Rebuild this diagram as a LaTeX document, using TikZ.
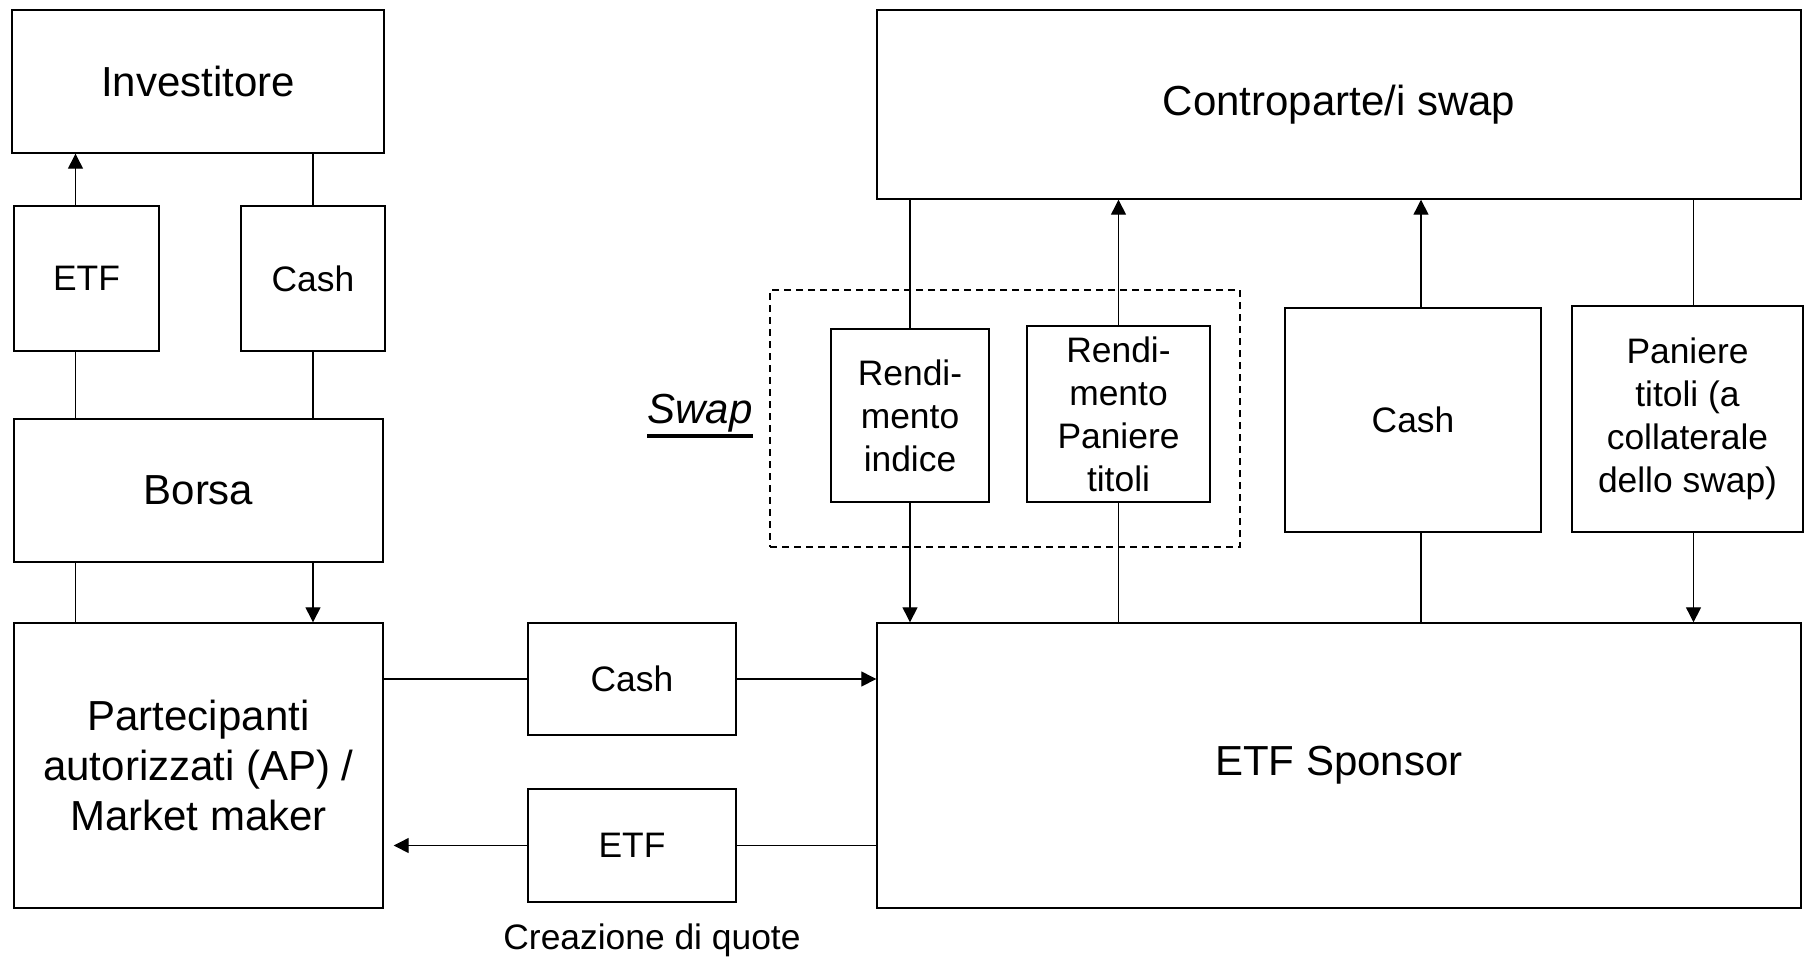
\documentclass[tikz,border=0pt]{standalone}
\usepackage{fontspec}
\setmainfont{Liberation Sans}
\usetikzlibrary{arrows.meta}
\newcommand\bigfont{\fontsize{21}{25}\selectfont}
\newcommand\smallfont{\fontsize{17.7}{21.5}\selectfont}
\newcommand\swapul[1]{\setbox0\hbox{#1}\rlap{\rule[-7pt]{\wd0}{1.8pt}}\box0}

\begin{document}
\begin{tikzpicture}[
    x=0.5pt,y=-0.5pt,
    >={Triangle[length=7.5pt,width=7.5pt]},
    box/.style 2 args={rectangle,draw,line width=0.7pt,
                minimum width=#1*0.5pt,minimum height=#2*0.5pt,
                inner sep=0pt,align=center,font=\bigfont},
    sbox/.style 2 args={box={#1}{#2},font=\smallfont},
    swapbox/.style 2 args={rectangle,draw,line width=0.6pt,
                dash pattern=on 3.5pt off 2.5pt,
                minimum width=#1*0.5pt,minimum height=#2*0.5pt},
    arr/.style={->,line width=0.65pt},
    lnk/.style={line width=0.65pt}
  ]
  \useasboundingbox (0,0) rectangle (1807,958);
  % lato mercato
  \node[box={372}{143}]  (inv)   at (198,81.5)    {Investitore};
  \node[sbox={145}{145}] (etfA)  at (86.5,278.5)  {ETF};
  \node[sbox={144}{145}] (cashA) at (313,278.5)   {Cash};
  \node[box={369}{143}]  (borsa) at (198.5,490.5) {Borsa};
  \node[box={369}{285}]  (ap)    at (198.5,765.5) {Partecipanti\\autorizzati (AP) /\\Market maker};
  % creazione
  \node[sbox={208}{112}] (cashB) at (632,679)     {Cash};
  \node[sbox={208}{113}] (etfB)  at (632,845.5)   {ETF};
  \node[font=\smallfont] (quote) at (652,940)     {Creazione di quote};
  % lato sponsor
  \node[box={924}{189}]  (cp)    at (1339,104.5)  {Controparte/i swap};
  \node[box={924}{285}]  (sp)    at (1339,765.5)  {ETF Sponsor};
  \node[swapbox={470}{257}] (swp) at (1005,418.5) {};
  \node[font=\bigfont\itshape] (swaplbl) at (700,416) {\swapul{Swap}};
  \node[sbox={158}{173}] (ri)    at (910,415.5)   {Rendi-\\mento\\indice};
  \node[sbox={183}{176}] (rp)    at (1118.5,414)  {Rendi-\\mento\\Paniere\\titoli};
  \node[sbox={256}{224}] (cashC) at (1413,420)    {Cash};
  \node[sbox={231}{226}] (col)   at (1687.5,419)  {Paniere\\titoli (a\\collaterale\\dello swap)};

  \draw[arr] ([xshift=-5.5pt]etfA.north) -- ([xshift=-5.5pt]etfA.north |- inv.south);
  \draw[lnk] (cashA.north) -- (cashA.north |- inv.south);
  \draw[lnk] ([xshift=-5.5pt]etfA.south) -- ([xshift=-5.5pt]etfA.south |- borsa.north);
  \draw[lnk] (cashA.south) -- (cashA.south |- borsa.north);
  \draw[lnk] ([xshift=-5.5pt]etfA.south |- borsa.south) -- ([xshift=-5.5pt]etfA.south |- ap.north);
  \draw[arr] (cashA |- borsa.south) -- (cashA |- ap.north);

  \draw[lnk] (ap.east |- cashB) -- (cashB.west);
  \draw[arr] (cashB.east) -- (cashB -| sp.west);
  \draw[lnk] (sp.west |- etfB) -- (etfB.east);
  \draw[arr,shorten >=5pt] (etfB.west) -- (etfB -| ap.east);

  \draw[lnk] (ri |- cp.south) -- (ri.north);
  \draw[arr] (ri.south) -- (ri |- sp.north);
  \draw[lnk] (rp |- sp.north) -- (rp.south);
  \draw[arr] (rp.north) -- (rp |- cp.south);
  \draw[lnk] ([xshift=4pt]cashC.south |- sp.north) -- ([xshift=4pt]cashC.south);
  \draw[arr] ([xshift=4pt]cashC.north) -- ([xshift=4pt]cashC.north |- cp.south);
  \draw[lnk] ([xshift=3pt]col.north |- cp.south) -- ([xshift=3pt]col.north);
  \draw[arr] ([xshift=3pt]col.south) -- ([xshift=3pt]col.south |- sp.north);
\end{tikzpicture}
\end{document}
